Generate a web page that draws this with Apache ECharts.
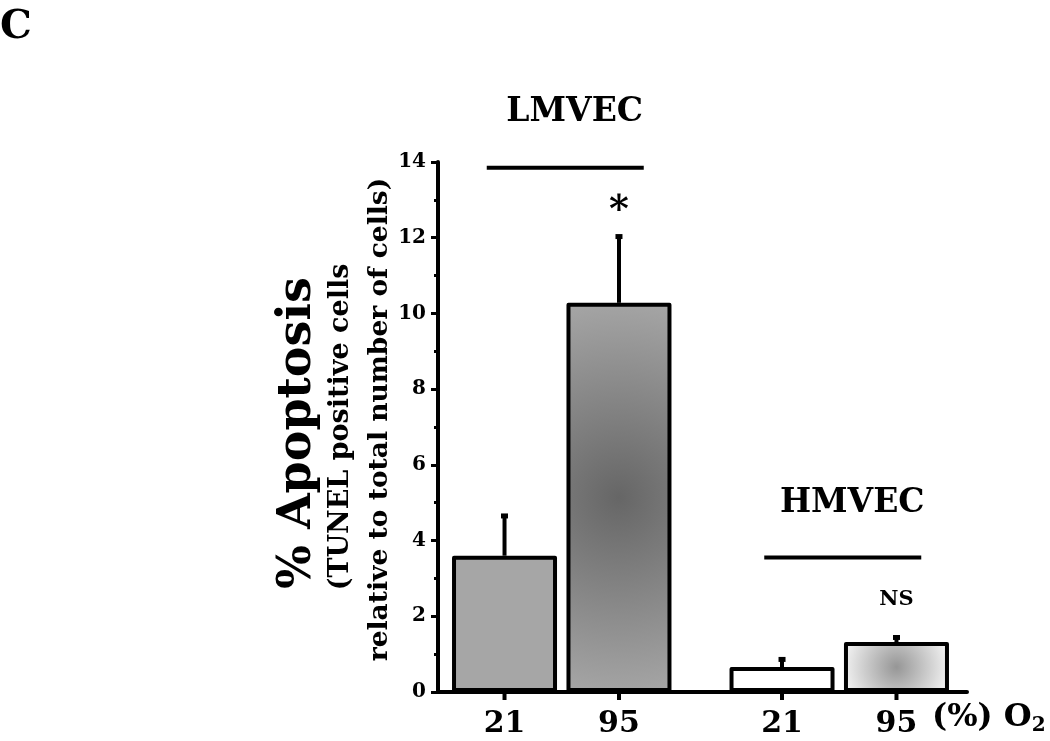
<!DOCTYPE html>
<html>
<head>
<meta charset="utf-8">
<script src="https://cdn.jsdelivr.net/npm/echarts@6/dist/echarts.min.js"></script>
<style>html,body{margin:0;padding:0;background:#fff}#chart{width:1050px;height:741px}</style>
</head>
<body>
<div id="chart"></div>
<script>
// ---- data ----
const groups = ['LMVEC', 'HMVEC'];
const oxygen = ['21', '95'];
const meanAt21 = [3.6, 0.66];
const meanAt95 = [10.28, 1.32];
const errAt21 = [1.09, 0.24];
const errAt95 = [1.79, 0.16];
const significance = ['*', 'NS'];
const yMin = 0, yMax = 14, yStep = 2;
const bracketLevel = [13.85, 3.55];
const groupLabelLevel = [15.3, 4.98];

// ---- style ----
const FONT = '"DejaVu Serif", "Liberation Serif", serif';
const BAR_W = 105, BAR_GAP = 0.09;
const fills = [
  ['#a6a6a6', '#ffffff'],
  [
    {type: 'radial', x: 0.5, y: 0.5, r: 2, colorStops: [{offset: 0, color: '#666666'}, {offset: 1, color: '#a9a9a9'}]},
    {type: 'radial', x: 0.5, y: 0.5, r: 1.1, colorStops: [{offset: 0, color: '#969696'}, {offset: 1, color: '#f5f5f5'}]}
  ]
];
const means = [meanAt21, meanAt95];
const errs = [errAt21, errAt95];

const chart = echarts.init(document.getElementById('chart'), null, {renderer: 'canvas'});

function barOffset(o) { return (o - 0.5) * BAR_W * (1 + BAR_GAP); }

const barSeries = oxygen.map((ox, o) => ({
  type: 'bar', name: ox, xAxisIndex: 1, yAxisIndex: 1,
  barWidth: BAR_W, barGap: (BAR_GAP * 100) + '%',
  data: groups.map((g, gi) => ({
    value: means[o][gi],
    itemStyle: {color: fills[o][gi]}
  })),
  itemStyle: {borderColor: '#000', borderWidth: 4, borderJoin: 'round'},
  label: {
    show: true, position: 'bottom', distance: 17,
    formatter: () => ox,
    fontFamily: FONT, fontWeight: 'bold', fontSize: 30, color: '#000'
  },
  emphasis: {disabled: true},
  z: 2
}));

const errData = [];
groups.forEach((g, gi) => oxygen.forEach((ox, o) => errData.push([gi, o, means[o][gi], errs[o][gi]])));

const errSeries = {
  type: 'custom', xAxisIndex: 1, yAxisIndex: 1, z: 3,
  encode: {x: 0, y: 2},
  data: errData,
  renderItem: (params, api) => {
    const gi = api.value(0), o = api.value(1), m = api.value(2), e = api.value(3);
    const base = api.coord([gi, 0]);
    const x = base[0] + barOffset(o);
    const yTop = api.coord([gi, m])[1];
    const yErr = api.coord([gi, m + e])[1];
    return {
      type: 'group',
      children: [
        {type: 'line', shape: {x1: x, y1: yTop, x2: x, y2: yErr}, style: {stroke: '#000', lineWidth: 4}},
        {type: 'rect', shape: {x: x - 3.5, y: yErr - 1, width: 7, height: 5}, style: {fill: '#000'}},
        {type: 'line', shape: {x1: x, y1: base[1], x2: x, y2: base[1] + 8}, style: {stroke: '#000', lineWidth: 4}}
      ]
    };
  }
};

const annData = groups.map((g, gi) => [gi, bracketLevel[gi], groupLabelLevel[gi], means[1][gi] + errs[1][gi]]);
const annSeries = {
  type: 'custom', xAxisIndex: 1, yAxisIndex: 1, z: 4,
  encode: {x: 0, y: 1},
  data: annData,
  renderItem: (params, api) => {
    const gi = api.value(0);
    const c = api.coord([gi, api.value(1)]);
    const lab = api.coord([gi, api.value(2)]);
    const top95 = api.coord([gi, api.value(3)]);
    const sx = c[0] + barOffset(1);
    const isStar = significance[gi] === '*';
    return {
      type: 'group',
      children: [
        {type: 'line', shape: {x1: c[0] - 75, y1: c[1], x2: c[0] + 82, y2: c[1]}, style: {stroke: '#000', lineWidth: 4}},
        {type: 'text', style: {text: groups[gi], x: lab[0] + 13, y: lab[1], align: 'center', verticalAlign: 'middle',
          fontFamily: FONT, fontWeight: 'bold', fontSize: 33, fill: '#000'}},
        {type: 'text', style: {text: significance[gi], x: sx, y: top95[1] - (isStar ? 24 : 36),
          align: 'center', verticalAlign: 'middle', fontFamily: FONT, fontWeight: 'bold',
          fontSize: isStar ? 38 : 21, fill: '#000'}}
      ]
    };
  }
};

chart.setOption({
  animation: false,
  backgroundColor: '#fff',
  title: {text: 'C', left: 0, top: 8, padding: 0,
    textStyle: {fontFamily: FONT, fontWeight: 'bold', fontSize: 40, color: '#000'}},
  grid: [
    {left: 438, right: 83, top: 162, bottom: 49},
    {left: 423, right: 72, top: 162, bottom: 49}
  ],
  xAxis: [
    {gridIndex: 0, type: 'value', min: 0, max: 1,
      axisLine: {show: true, lineStyle: {color: '#000', width: 4}},
      axisTick: {show: false}, axisLabel: {show: false}, splitLine: {show: false}},
    {gridIndex: 1, type: 'category', data: groups, show: false}
  ],
  yAxis: [
    {gridIndex: 0, type: 'value', min: yMin, max: yMax, interval: yStep,
      axisLine: {show: true, lineStyle: {color: '#000', width: 4}},
      axisTick: {show: true, length: 7, lineStyle: {color: '#000', width: 3}},
      minorTick: {show: true, splitNumber: 2, length: 4, lineStyle: {color: '#000', width: 3}},
      splitLine: {show: false}, minorSplitLine: {show: false},
      axisLabel: {margin: 12, fontFamily: FONT, fontWeight: 'bold', fontSize: 20, color: '#000'},
      name: '{a|% Apoptosis}\n{b|(TUNEL positive cells}\n{c|relative to total number of cells)}',
      nameLocation: 'middle', nameRotate: 90, nameGap: 36, nameMoveOverlap: false,
      nameTextStyle: {
        color: '#000', fontFamily: FONT, fontWeight: 'bold',
        rich: {
          a: {fontFamily: FONT, fontWeight: 'bold', fontSize: 46, lineHeight: 52, color: '#000', padding: [0, 12, 0, 0]},
          b: {fontFamily: FONT, fontWeight: 'bold', fontSize: 27, lineHeight: 34, color: '#000'},
          c: {fontFamily: FONT, fontWeight: 'bold', fontSize: 26.5, lineHeight: 44, color: '#000', padding: [0, 0, 0, 15]}
        }
      }},
    {gridIndex: 1, type: 'value', min: yMin, max: yMax, show: false}
  ],
  graphic: [
    {type: 'text', left: 932, top: 702, z: 10,
      style: {text: '(%) O{s|2}', fontFamily: FONT, fontWeight: 'bold', fontSize: 32, fill: '#000',
        rich: {s: {fontFamily: FONT, fontWeight: 'bold', fontSize: 20, verticalAlign: 'bottom', padding: [15, 0, 0, 0]}}}}
  ],
  series: [...barSeries, errSeries, annSeries]
});
</script>
</body>
</html>
